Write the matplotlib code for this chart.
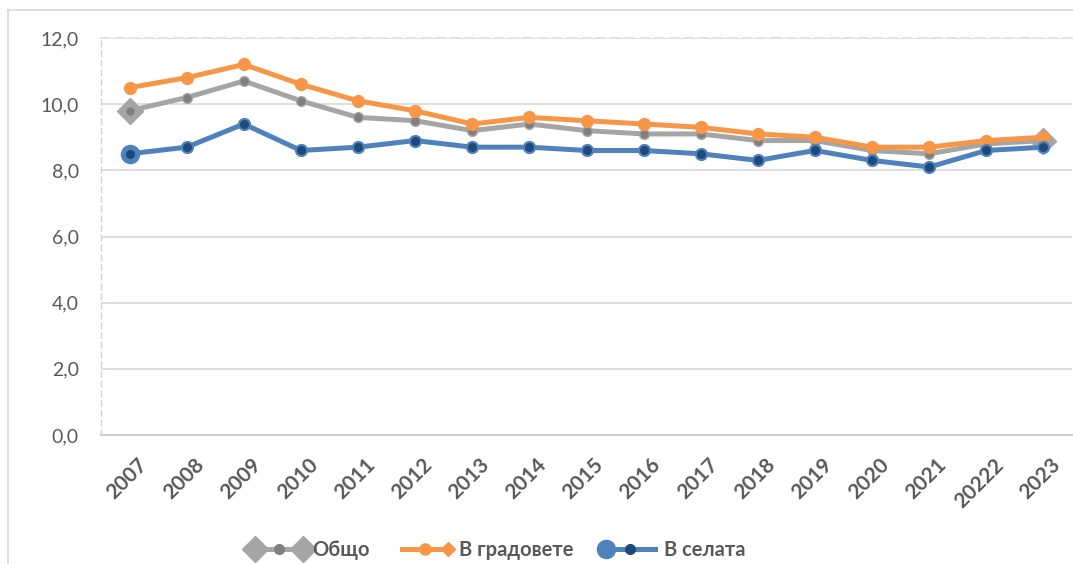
import matplotlib
matplotlib.use("Agg")
import matplotlib.pyplot as plt
import matplotlib.transforms as mtransforms
from matplotlib.lines import Line2D
from matplotlib.legend_handler import HandlerBase
import numpy as np

years = ["2007", "2008", "2009", "2010", "2011", "2012", "2013", "2014", "2015",
         "2016", "2017", "2018", "2019", "2020", "2021", "20222", "2023"]
total = [9.8, 10.2, 10.7, 10.1, 9.6, 9.5, 9.2, 9.4, 9.2, 9.1, 9.1, 8.9, 8.9, 8.6, 8.5, 8.8, 8.9]
cities = [10.5, 10.8, 11.2, 10.6, 10.1, 9.8, 9.4, 9.6, 9.5, 9.4, 9.3, 9.1, 9.0, 8.7, 8.7, 8.9, 9.0]
villages = [8.5, 8.7, 9.4, 8.6, 8.7, 8.9, 8.7, 8.7, 8.6, 8.6, 8.5, 8.3, 8.6, 8.3, 8.1, 8.6, 8.7]
series_names = ["Общо", "В градовете", "В селата"]
yticks = [0, 2, 4, 6, 8, 10, 12]

GRAY = "#A5A5A5"
GRAY_D = "#808080"
ORANGE = "#F79646"
BLUE = "#4F81BD"
BLUE_D = "#1F497D"
TXT = "#595959"

plt.rcParams['font.family'] = ['Lato', 'Open Sans', 'DejaVu Sans']

fig = plt.figure(figsize=(10.73, 5.64), dpi=100)
W, H = 1073, 564
ax = fig.add_axes([101 / W, 1 - 435 / H, (1072 - 101) / W, (435 - 38) / H])

x = np.arange(len(years))

# Общо
ax.plot(x, total, color=GRAY, lw=3.6, zorder=3, solid_capstyle='round')
ax.plot([x[0], x[-1]], [total[0], total[-1]], ls='none', marker='D', ms=13,
        color=GRAY, zorder=3.1)
ax.plot(x, total, ls='none', marker='o', ms=7, mfc=GRAY_D, mec=GRAY, mew=1, zorder=3.2)

# В градовете
ax.plot(x, cities, color=ORANGE, lw=3.6, marker='o', ms=8.5, mfc=ORANGE, mec=ORANGE,
        zorder=4, solid_capstyle='round')

# В селата
ax.plot(x, villages, color=BLUE, lw=3.6, zorder=5, solid_capstyle='round')
ax.plot([x[0]], [villages[0]], ls='none', marker='o', ms=13, color=BLUE, zorder=5.1)
ax.plot(x, villages, ls='none', marker='o', ms=8, mfc=BLUE_D, mec=BLUE, mew=1.5, zorder=5.2)

ax.set_xlim(-0.5, len(years) - 0.5)
ax.set_ylim(0, 12)
ax.set_yticks(yticks)
ax.set_yticklabels([f"{v:.1f}".replace('.', ',') for v in yticks])
ax.set_xticks(x)
ax.set_xticklabels(years)

ax.grid(axis='y', color='#D9D9D9', lw=1.2, zorder=0)
ax.set_axisbelow(True)

ax.spines['right'].set_visible(False)
ax.spines['bottom'].set_color('#D0D0D0')
ax.spines['bottom'].set_linewidth(1.5)
ax.spines['left'].set_color('#C5D5EA')
ax.spines['left'].set_linestyle((0, (4, 3)))
ax.spines['left'].set_linewidth(1.0)
ax.spines['top'].set_color('#DCE4EE')
ax.spines['top'].set_linestyle((0, (4, 3)))
ax.spines['top'].set_linewidth(1.5)

ax.tick_params(axis='y', length=0, pad=16, labelsize=14, labelcolor=TXT)
ax.tick_params(axis='x', length=0, pad=14, labelsize=15, labelcolor=TXT)
offset = mtransforms.ScaledTranslation(7 / 100, 0, fig.dpi_scale_trans)
for lbl in ax.get_xticklabels():
    lbl.set_rotation(45)
    lbl.set_ha('right')
    lbl.set_va('top')
    lbl.set_rotation_mode('anchor')
    lbl.set_fontweight('bold')
    lbl.set_transform(lbl.get_transform() + offset)

# outer chart border
fig.add_artist(Line2D([8 / W, 8 / W], [0, 1 - 10 / H], transform=fig.transFigure,
                      color='#D9D9D9', lw=1.2))
fig.add_artist(Line2D([8 / W, 1], [1 - 10 / H, 1 - 10 / H], transform=fig.transFigure,
                      color='#D9D9D9', lw=1.2))


class MultiMarkerHandler(HandlerBase):
    def __init__(self, color, lw, marks):
        super().__init__()
        self.color = color
        self.lw = lw
        self.marks = marks

    def create_artists(self, legend, orig_handle, xdescent, ydescent, width, height,
                       fontsize, trans):
        y = height / 2 - ydescent
        arts = [Line2D([-xdescent, width - xdescent], [y, y], color=self.color,
                       lw=self.lw, transform=trans)]
        for frac, mk, ms, fc in self.marks:
            arts.append(Line2D([-xdescent + frac * width], [y], ls='none', marker=mk,
                               ms=ms, mfc=fc, mec=fc, transform=trans))
        return arts


h1 = Line2D([], [], color=GRAY)
h2 = Line2D([], [], color=ORANGE)
h3 = Line2D([], [], color=BLUE)
handler_map = {
    h1: MultiMarkerHandler(GRAY, 3.6, [(0, 'D', 13, GRAY), (1, 'D', 13, GRAY),
                                       (0.5, 'o', 7, GRAY_D)]),
    h2: MultiMarkerHandler(ORANGE, 3.6, [(0.47, 'o', 8, ORANGE), (0.95, 'D', 7, ORANGE)]),
    h3: MultiMarkerHandler(BLUE, 3.6, [(0, 'o', 13, BLUE), (0.5, 'o', 7, BLUE_D)]),
}
leg = fig.legend([h1, h2, h3], series_names, handler_map=handler_map,
                 loc='center', bbox_to_anchor=(500 / W, 1 - 550 / H), ncol=3,
                 frameon=False, handlelength=2.4, handletextpad=0.45,
                 columnspacing=1.6, prop={'weight': 'bold', 'size': 14.5})
for t in leg.get_texts():
    t.set_color(TXT)

fig.savefig("out.png", dpi=100)
